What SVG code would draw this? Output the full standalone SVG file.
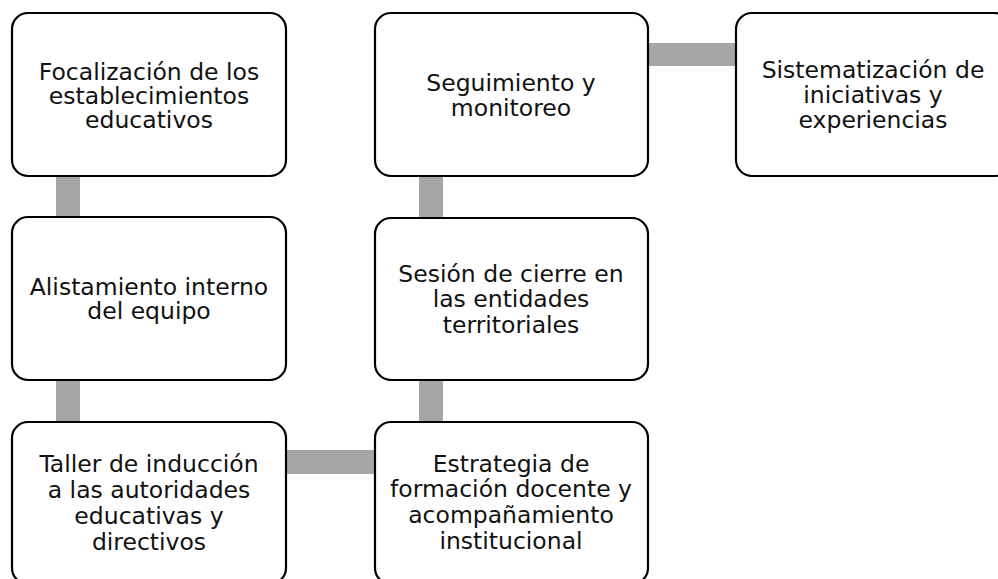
<svg xmlns="http://www.w3.org/2000/svg" width="998" height="579" viewBox="0 0 998 579">
<style>
.box{fill:#ffffff;stroke:#000000;stroke-width:2.2}
.lbl{font-family:"DejaVu Sans",Verdana,sans-serif;font-size:23.5px;fill:#111111;text-anchor:middle}
.con{fill:#a6a6a6;stroke:none}
</style>
<rect width="998" height="579" fill="#ffffff"/>
<g id="connectors">
<rect class="con" x="56" y="175" width="24" height="44"/>
<rect class="con" x="56" y="379" width="24" height="44"/>
<rect class="con" x="285" y="450" width="91" height="24"/>
<rect class="con" x="419" y="379" width="24" height="44"/>
<rect class="con" x="419" y="175" width="24" height="44"/>
<rect class="con" x="646" y="43" width="91" height="23"/>
</g>
<g id="n1">
<rect class="box" x="12" y="13" width="274" height="163" rx="16"/>
<text class="lbl" x="149" y="80">Focalización de los</text>
<text class="lbl" x="149" y="104">establecimientos</text>
<text class="lbl" x="149" y="128">educativos</text>
</g>
<g id="n2">
<rect class="box" x="12" y="217" width="274" height="163" rx="16"/>
<text class="lbl" x="149" y="295">Alistamiento interno</text>
<text class="lbl" x="149" y="319">del equipo</text>
</g>
<g id="n3">
<rect class="box" x="12" y="422" width="274" height="162" rx="16"/>
<text class="lbl" x="149" y="472">Taller de inducción</text>
<text class="lbl" x="149" y="498">a las autoridades</text>
<text class="lbl" x="149" y="524">educativas y</text>
<text class="lbl" x="149" y="550">directivos</text>
</g>
<g id="n4">
<rect class="box" x="375" y="422" width="273" height="162" rx="16"/>
<text class="lbl" x="511" y="472">Estrategia de</text>
<text class="lbl" x="511" y="497">formación docente y</text>
<text class="lbl" x="511" y="523">acompañamiento</text>
<text class="lbl" x="511" y="549">institucional</text>
</g>
<g id="n5">
<rect class="box" x="375" y="218" width="273" height="162" rx="16"/>
<text class="lbl" x="511" y="282">Sesión de cierre en</text>
<text class="lbl" x="511" y="307">las entidades</text>
<text class="lbl" x="511" y="333">territoriales</text>
</g>
<g id="n6">
<rect class="box" x="375" y="13" width="273" height="163" rx="16"/>
<text class="lbl" x="511" y="91">Seguimiento y</text>
<text class="lbl" x="511" y="116">monitoreo</text>
</g>
<g id="n7">
<rect class="box" x="736" y="13" width="274" height="163" rx="16"/>
<text class="lbl" x="873" y="78">Sistematización de</text>
<text class="lbl" x="873" y="103">iniciativas y</text>
<text class="lbl" x="873" y="128">experiencias</text>
</g>
</svg>
